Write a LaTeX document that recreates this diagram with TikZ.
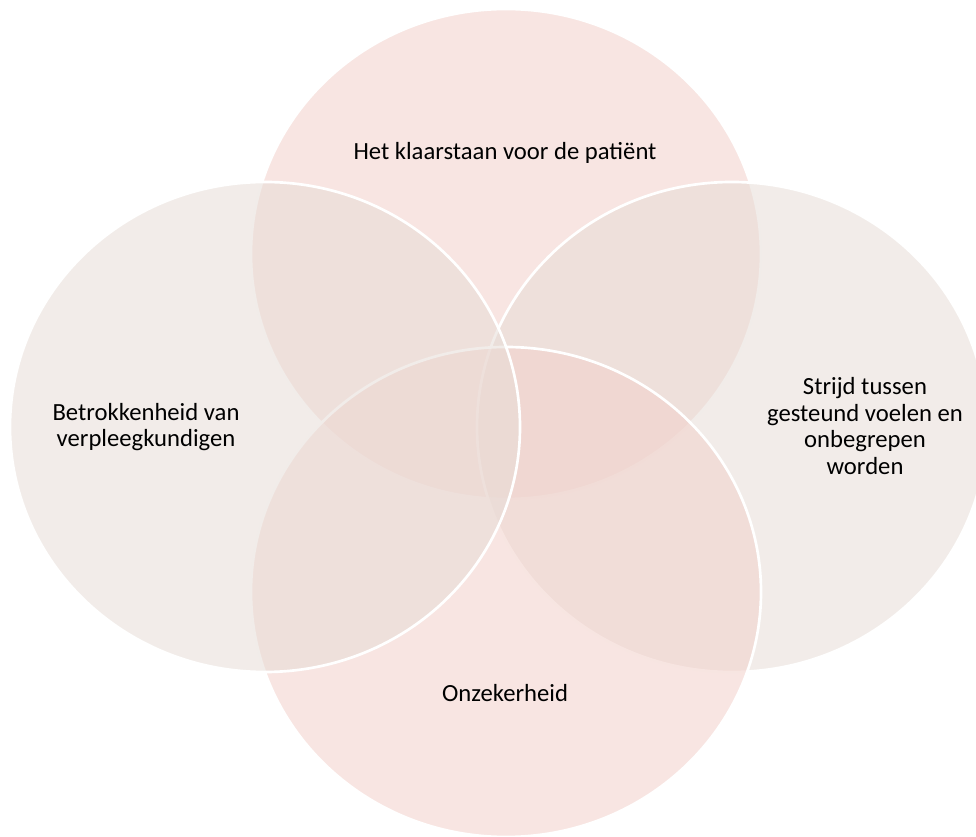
\documentclass[tikz,border=0pt]{standalone}
\usepackage{fontspec}
\setmainfont{Carlito}
\usepackage{xcolor}
\definecolor{roze}{RGB}{242,208,202}
\definecolor{grijs}{RGB}{231,221,215}
\tikzset{
	cirkel/.style={draw=white, line width=2pt, fill opacity=0.55},
	tekst/.style={align=center, font=\fontsize{18.5}{20}\selectfont, text=black}
}

\begin{document}
\begin{tikzpicture}[x=0.75pt, y=-0.75pt]
		\useasboundingbox (0,0) rectangle (976,837);
		\clip (0,0) rectangle (976,837);

		\filldraw[cirkel, fill=roze] (506,254) ellipse [x radius=255, y radius=245];
		\filldraw[cirkel, fill=grijs] (732,427) ellipse [x radius=255, y radius=245];
		\filldraw[cirkel, fill=roze] (506,592) ellipse [x radius=255, y radius=245];
		\filldraw[cirkel, fill=grijs] (265,427) ellipse [x radius=255, y radius=245];

		\node[tekst] (patient) at (505,153) {Het klaarstaan voor de patiënt};
		\node[tekst] (betrokken) at (146,427) {Betrokkenheid van\\verpleegkundigen};
		\node[tekst] (strijd) at (865,426) {Strijd tussen\\gesteund voelen en\\onbegrepen\\worden};
		\node[tekst] (onzeker) at (505,693) {Onzekerheid};
	\end{tikzpicture}
\end{document}
